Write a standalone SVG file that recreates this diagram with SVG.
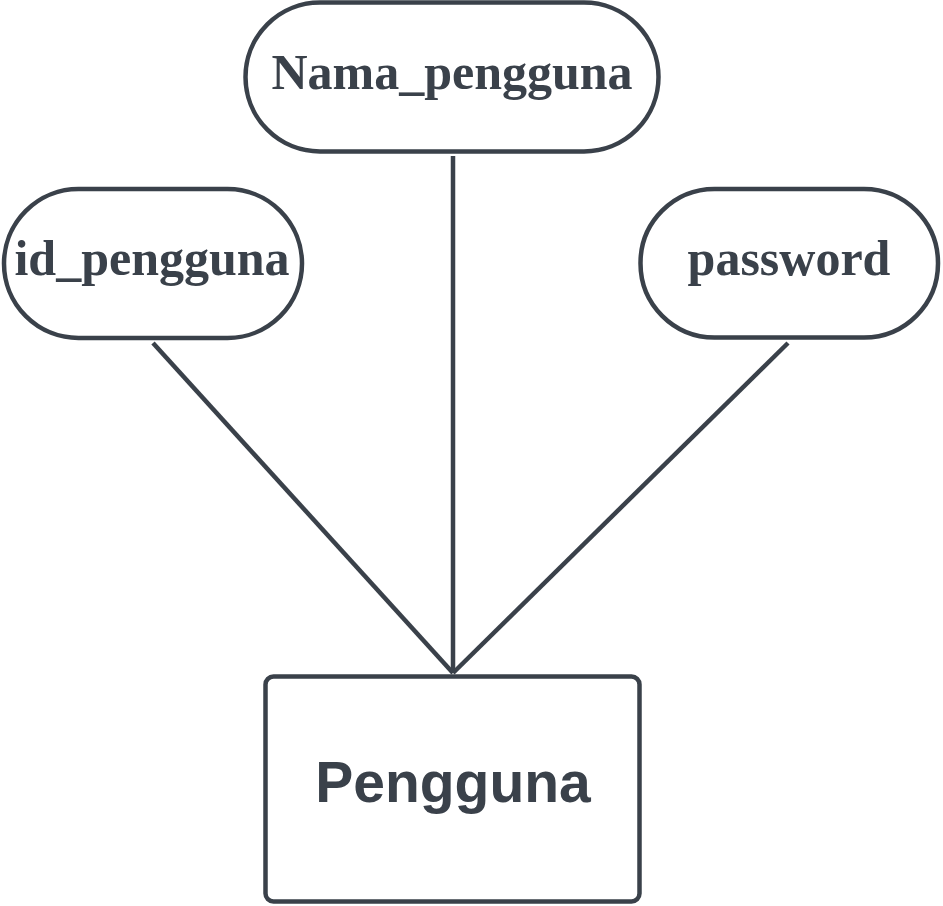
<svg xmlns="http://www.w3.org/2000/svg" width="943" height="906" viewBox="0 0 943 906">
<style>
.shape{fill:#ffffff;stroke:#3a414a;stroke-width:4.5}
.conn{stroke:#3a414a;stroke-width:4.5;fill:none}
.attr{font-family:"Liberation Serif","Times New Roman",serif;font-weight:bold;font-size:50px;fill:#3a414a;text-anchor:middle}
.ent{font-family:"Liberation Sans",Arial,sans-serif;font-weight:bold;font-size:57px;fill:#3a414a;text-anchor:middle}
</style>
<rect width="943" height="906" fill="#ffffff"/>
<g id="connectors">
<line class="conn" x1="153" y1="343" x2="453" y2="673"/>
<line class="conn" x1="453" y1="156" x2="453" y2="673"/>
<line class="conn" x1="788" y1="343" x2="453" y2="673"/>
</g>
<g id="nama_pengguna">
<rect class="shape" x="245.5" y="2.5" width="413" height="149" rx="74.5" ry="74.5"/>
<text class="attr" x="452" y="89">Nama_pengguna</text>
</g>
<g id="id_pengguna">
<rect class="shape" x="4" y="189" width="298" height="149" rx="74.5" ry="74.5"/>
<text class="attr" x="152" y="275">id_pengguna</text>
</g>
<g id="password">
<rect class="shape" x="640.5" y="189" width="297.5" height="148.5" rx="74" ry="74"/>
<text class="attr" x="789" y="275">password</text>
</g>
<g id="pengguna">
<rect class="shape" x="265.5" y="676.5" width="374" height="225" rx="8" ry="8"/>
<text class="ent" x="453" y="802">Pengguna</text>
</g>
</svg>
